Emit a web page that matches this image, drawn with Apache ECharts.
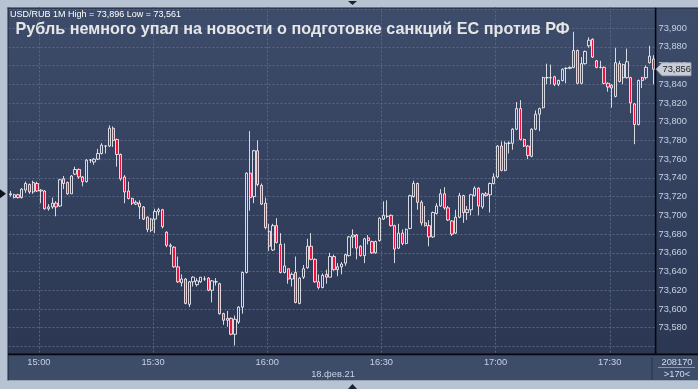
<!DOCTYPE html>
<html><head><meta charset="utf-8">
<script src="https://cdn.jsdelivr.net/npm/echarts@6/dist/echarts.min.js"></script>
<style>html,body{margin:0;padding:0;background:#b7c3d2;overflow:hidden}#c{width:698px;height:389px}</style>
</head><body><div id="c"></div>
<script>
// ---- data ----
const startTime = '14:52';
const candleCount = 170;
const timeLabels = ['15:00', '15:30', '16:00', '16:30', '17:00', '17:30'];
const opens = [
73.722,73.719,73.722,73.719,73.727,73.733,73.725,73.734,73.726,73.726,
73.707,73.709,73.713,73.710,73.739,73.735,73.723,73.744,73.749,73.741,
73.736,73.759,73.757,73.760,73.766,73.774,73.774,73.793,73.781,73.765,
73.741,73.726,73.718,73.712,73.713,73.709,73.698,73.684,73.696,73.704,
73.706,73.682,73.667,
73.666,73.645,73.628,73.632,73.605,73.629,73.626,73.629,73.632,73.633,
73.620,73.629,73.627,73.595,73.588,73.590,73.573,73.586,73.602,73.639,
73.745,73.720,73.769,73.732,73.713,73.683,73.663,73.689,73.669,73.639,
73.643,73.632,73.639,73.606,73.634,73.644,73.667,73.653,73.629,73.623,
73.637,73.634,
73.656,73.642,73.645,73.649,73.657,73.677,73.679,73.667,73.657,73.676,
73.672,73.660,73.673,73.696,73.699,73.700,73.689,73.665,73.681,73.670,
73.686,73.720,73.734,73.714,73.692,73.689,73.677,73.702,73.710,73.723,
73.708,73.694,73.681,73.698,73.721,73.703,73.706,73.721,73.729,73.709,
73.723,73.722,
73.734,73.741,73.774,73.748,73.777,73.777,73.792,73.814,73.781,73.774,
73.763,73.792,
73.808,73.815,73.847,73.847,73.848,73.840,73.844,73.857,73.857,73.858,
73.876,73.841,73.862,73.881,73.888,73.865,73.858,73.858,73.841,73.839,
73.827,73.862,73.847,73.847,73.847,73.819,73.797,73.847,73.847,73.863,
73.867];
const closes = [
73.723,73.722,73.719,73.728,73.734,73.725,73.735,73.726,73.727,73.707,
73.709,73.713,73.709,73.738,73.734,73.723,73.742,73.749,73.741,73.736,
73.759,73.759,73.760,73.766,73.775,73.774,73.793,73.780,73.765,73.739,
73.725,73.718,73.713,73.714,73.709,73.696,73.685,73.696,73.704,73.706,
73.688,73.668,73.668,
73.645,73.629,73.632,73.606,73.629,73.634,73.630,73.634,73.632,73.620,
73.630,73.629,73.595,73.588,73.590,73.573,73.589,73.602,73.639,73.745,
73.719,73.769,73.733,73.712,73.687,73.667,73.689,73.671,73.639,73.646,
73.632,73.637,73.607,73.633,73.643,73.667,73.653,73.629,73.623,73.636,
73.634,73.656,
73.642,73.645,73.648,73.658,73.677,73.679,73.665,73.657,73.675,73.673,
73.660,73.672,73.697,73.700,73.699,73.689,73.664,73.681,73.670,73.685,
73.721,73.734,73.714,73.692,73.689,73.677,73.703,73.710,73.723,73.708,
73.695,73.680,73.698,73.721,73.703,73.706,73.722,73.729,73.710,73.723,
73.721,73.734,
73.741,73.774,73.748,73.777,73.777,73.792,73.814,73.781,73.774,73.764,
73.792,73.808,
73.814,73.847,73.847,73.847,73.840,73.844,73.856,73.857,73.858,73.876,
73.841,73.862,73.875,73.887,73.869,73.858,73.858,73.841,73.837,73.836,
73.863,73.843,73.861,73.864,73.820,73.797,73.844,73.844,73.858,73.870,
73.856];
const lows = [
73.720,73.718,73.718,73.718,73.724,73.723,73.723,73.725,73.713,73.706,
73.705,73.707,73.699,73.709,73.728,73.722,73.723,73.743,73.739,73.731,
73.735,73.756,73.754,73.759,73.765,73.766,73.773,73.773,73.752,73.737,
73.713,73.717,73.711,73.711,73.696,73.695,73.682,73.682,73.681,73.700,
73.686,73.666,73.658,
73.644,73.628,73.624,73.605,73.602,73.624,73.624,73.628,73.630,73.619,
73.607,73.625,73.594,73.583,73.581,73.572,73.561,73.584,73.595,73.638,
73.705,73.713,73.731,73.711,73.685,73.662,73.662,73.670,73.638,73.638,
73.627,73.624,73.606,73.605,73.632,73.643,73.652,73.628,73.621,73.622,
73.627,73.634,
73.641,73.635,73.637,73.646,73.656,73.665,73.653,73.656,73.649,73.669,
73.659,73.659,73.672,73.695,73.697,73.688,73.649,73.664,73.668,73.669,
73.685,73.719,73.706,73.689,73.688,73.667,73.676,73.701,73.709,73.706,
73.694,73.678,73.680,73.697,73.692,73.695,73.700,73.720,73.700,73.707,
73.720,73.703,
73.733,73.740,73.747,73.747,73.766,73.770,73.791,73.780,73.773,73.760,
73.762,73.791,
73.790,73.814,73.840,73.840,73.838,73.838,73.843,73.841,73.856,73.857,
73.840,73.840,73.861,73.879,73.868,73.857,73.857,73.840,73.832,73.815,
73.826,73.842,73.840,73.846,73.809,73.776,73.796,73.836,73.845,73.862,
73.840];
const highs = [
73.726,73.723,73.723,73.729,73.736,73.734,73.737,73.736,73.728,73.727,
73.712,73.719,73.715,73.739,73.742,73.736,73.743,73.752,73.750,73.742,
73.760,73.760,73.761,73.771,73.777,73.775,73.796,73.795,73.782,73.766,
73.743,73.736,73.719,73.716,73.716,73.710,73.699,73.697,73.707,73.708,
73.707,73.683,73.670,
73.667,73.656,73.637,73.633,73.630,73.635,73.633,73.634,73.635,73.634,
73.631,73.633,73.628,73.596,73.598,73.591,73.593,73.603,73.640,73.746,
73.790,73.770,73.780,73.734,73.719,73.691,73.691,73.697,73.681,73.670,
73.643,73.639,73.656,73.634,73.647,73.675,73.681,73.654,73.637,73.638,
73.642,73.660,
73.658,73.649,73.650,73.659,73.678,73.685,73.680,73.668,73.676,73.679,
73.673,73.673,73.698,73.715,73.716,73.701,73.690,73.691,73.685,73.686,
73.722,73.737,73.735,73.716,73.710,73.695,73.704,73.713,73.728,73.730,
73.710,73.695,73.706,73.724,73.722,73.710,73.723,73.731,73.730,73.724,
73.725,73.735,
73.745,73.775,73.779,73.779,73.779,73.793,73.821,73.823,73.782,73.775,
73.793,73.812,
73.815,73.848,73.862,73.861,73.849,73.845,73.857,73.858,73.859,73.896,
73.877,73.869,73.876,73.890,73.889,73.866,73.865,73.859,73.842,73.840,
73.879,73.865,73.862,73.878,73.848,73.820,73.845,73.848,73.860,73.881,
73.871];
const symbolName = 'USD/RUB 1M';
const titleText = 'Рубль немного упал на новости о подготовке санкций ЕС против РФ';
const dateLabel = '18.фев.21';
const volumeText = '208170';
const countText = '>170<';
const yMin = 73.54, yMax = 73.94, yStep = 0.02;
const yLabelMin = 73.58, yLabelMax = 73.90;

// ---- build ----
const times = [];
{
  const [h0, m0] = startTime.split(':').map(Number);
  for (let i = 0; i < candleCount; i++) {
    const t = h0 * 60 + m0 + i;
    times.push(String(Math.floor(t / 60)).padStart(2, '0') + ':' + String(t % 60).padStart(2, '0'));
  }
}
const ohlc = opens.map((o, i) => [o, closes[i], lows[i], highs[i]]);
const fmt = v => v.toFixed(3).replace('.', ',');
const headerText = symbolName + ' High = ' + fmt(Math.max(...highs)) + ' Low = ' + fmt(Math.min(...lows));
const FONT = '"Liberation Sans", Arial, sans-serif';
const isTimeLabel = (idx, val) => timeLabels.indexOf(val) >= 0;

const chart = echarts.init(document.getElementById('c'), null, {renderer: 'canvas'});
chart.setOption({
  animation: false,
  backgroundColor: 'transparent',
  grid: {left: 8.5, right: 42.5, top: -9.41, bottom: 23.81, containLabel: false, outerBoundsMode: 'none'},
  xAxis: [{
    type: 'category', data: times, boundaryGap: true, z: 0,
    axisLine: {show: false}, axisTick: {show: false}, axisLabel: {show: false},
    splitLine: {show: true, interval: isTimeLabel, lineStyle: {color: '#586785', type: [2, 2], width: 1}}
  }, {
    type: 'category', data: times, boundaryGap: true, position: 'bottom', offset: 0, z: 80,
    axisLine: {show: false}, axisTick: {show: false}, splitLine: {show: false},
    axisLabel: {show: true, interval: isTimeLabel, margin: -3, verticalAlign: 'middle',
      padding: [0, 4, 0, 0], color: '#c6d1e3', fontSize: 9.3, fontFamily: FONT}
  }],
  yAxis: {
    type: 'value', position: 'right', min: yMin, max: yMax, interval: yStep, scale: true,
    axisLine: {show: false}, axisTick: {show: false},
    splitLine: {show: true, lineStyle: {color: '#586785', type: [2, 2], width: 1}},
    axisLabel: {margin: 3, color: '#c6d1e3', fontSize: 9.3, fontFamily: FONT,
      formatter: v => (v >= yLabelMin - 1e-6 && v <= yLabelMax + 1e-6) ? fmt(v) : ''}
  },
  series: [{
    type: 'candlestick', xAxisIndex: 0, yAxisIndex: 0, data: ohlc, barWidth: 2.8,
    itemStyle: {color: 'rgba(0,0,0,0)', color0: '#f0103c', borderColor: '#ffffff', borderColor0: '#ffffff', borderWidth: 0.8},
    emphasis: {disabled: true}
  }]
});

const lastClose = closes[closes.length - 1];
const yLast = chart.convertToPixel({yAxisIndex: 0}, lastClose);
const yFirst = chart.convertToPixel({yAxisIndex: 0}, closes[0]);
const FRAME = '#b7c3d2';
chart.setOption({
  graphic: [
    {type: 'rect', z: -10, shape: {x: 8, y: 8, width: 690, height: 347},
      style: {fill: new echarts.graphic.LinearGradient(0, 0, 0, 1, [{offset: 0, color: '#3d4c6a'}, {offset: 1, color: '#2b3753'}])}},
    {type: 'rect', z: 50, shape: {x: 8, y: 355, width: 690, height: 25.5}, style: {fill: '#3d4d69'}},
    {type: 'rect', z: 60, shape: {x: 0, y: 0, width: 698, height: 7.5}, style: {fill: FRAME}},
    {type: 'rect', z: 60, shape: {x: 0, y: 0, width: 7.5, height: 389}, style: {fill: FRAME}},
    {type: 'rect', z: 60, shape: {x: 0, y: 380.5, width: 698, height: 9}, style: {fill: FRAME}},
    {type: 'rect', z: 61, shape: {x: 7.5, y: 7.5, width: 691, height: 1}, style: {fill: '#1c2436'}},
    {type: 'rect', z: 61, shape: {x: 7.5, y: 7.5, width: 1, height: 373}, style: {fill: '#1c2436'}},
    {type: 'rect', z: 61, shape: {x: 8, y: 353.6, width: 690, height: 1.6}, style: {fill: '#05070c'}},
    {type: 'rect', z: 61, shape: {x: 654.8, y: 8, width: 1.6, height: 347}, style: {fill: '#05070c'}},
    {type: 'rect', z: 61, shape: {x: 651.5, y: 357, width: 1, height: 23}, style: {fill: '#27324a'}},
    {type: 'rect', z: 61, shape: {x: 658, y: 367, width: 37, height: 1}, style: {fill: '#8894aa'}},
    {type: 'polygon', z: 62, shape: {points: [[348, 1], [357, 1], [352.5, 5]]}, style: {fill: '#1a2130'}},
    {type: 'polygon', z: 62, shape: {points: [[348, 389], [357, 389], [352.5, 384]]}, style: {fill: '#1a2130'}},
    {type: 'polygon', z: 62, shape: {points: [[0, yFirst - 4.5], [0, yFirst + 4.5], [6, yFirst]]}, style: {fill: '#10141c'}},
    {type: 'text', z: 70, x: 10, y: 15, style: {text: headerText, fill: '#ffffff', font: '9px ' + FONT, verticalAlign: 'middle'}},
    {type: 'text', z: 70, x: 15.5, y: 29.5, style: {text: titleText, fill: '#e6e6e6', font: 'bold 16.2px ' + FONT, verticalAlign: 'middle'}},
    {type: 'text', z: 70, x: 333, y: 374, style: {text: dateLabel, fill: '#c6d1e3', font: '9.3px ' + FONT, align: 'center', verticalAlign: 'middle'}},
    {type: 'text', z: 70, x: 677, y: 362, style: {text: volumeText, fill: '#d4dced', font: '9.3px ' + FONT, align: 'center', verticalAlign: 'middle'}},
    {type: 'text', z: 70, x: 677, y: 374, style: {text: countText, fill: '#d4dced', font: '9.3px ' + FONT, align: 'center', verticalAlign: 'middle'}},
    {type: 'polygon', z: 70, shape: {points: [[656, yLast], [662, yLast - 6.5], [691, yLast - 6.5], [691, yLast + 6.5], [662, yLast + 6.5]]},
      style: {fill: '#c9ced6', stroke: '#9aa3b2', lineWidth: 0.8}},
    {type: 'text', z: 71, x: 662.5, y: yLast, style: {text: fmt(lastClose), fill: '#1c1f26', font: '9.3px ' + FONT, verticalAlign: 'middle'}}
  ]
});
</script></body></html>
